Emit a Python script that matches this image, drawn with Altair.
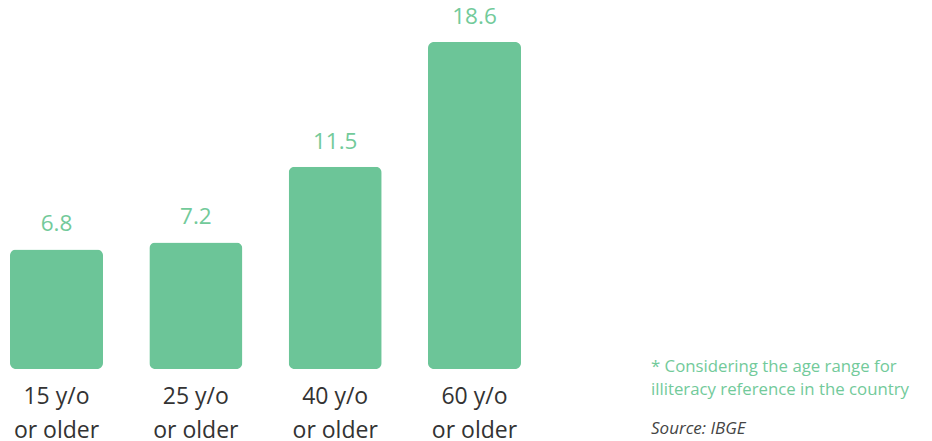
import altair as alt
import pandas as pd

categories = ["15 y/o\nor older", "25 y/o\nor older", "40 y/o\nor older", "60 y/o\nor older"]
values = [6.8, 7.2, 11.5, 18.6]
value_labels = ["6.8", "7.2", "11.5", "18.6"]
note_lines = ["* Considering the age range for", "illiteracy reference in the country"]
source_text = "Source: IBGE"

df = pd.DataFrame({"cat": categories, "val": values, "lbl": value_labels})

GREEN = "#6cc598"
TXT_GREEN = "#72ca9a"
FONT = "Open Sans"

x = alt.X("cat:N", sort=categories, axis=None,
          scale=alt.Scale(range=[2, 513], paddingInner=0.3325, paddingOuter=0))
y = alt.Y("val:Q", axis=None, scale=alt.Scale(domain=[0, 20.53], range=[361, 0]))

bars = alt.Chart(df).mark_bar(color=GREEN, cornerRadius=6).encode(x=x, y=y)

vals = alt.Chart(df).mark_text(color=TXT_GREEN, font=FONT, fontSize=22.5,
                               baseline="alphabetic", dy=-18).encode(x=x, y=y, text="lbl:N")

cats = alt.Chart(df).mark_text(color="#333333", font=FONT, fontSize=23,
                               baseline="alphabetic", lineBreak="\n", lineHeight=34,
                               align="center").encode(
    x=x, y=alt.value(396), text="cat:N")

notes = alt.Chart(pd.DataFrame({"t": ["\n".join(note_lines)]})).mark_text(
    color=TXT_GREEN, font=FONT, fontSize=16.8, align="left",
    baseline="alphabetic", lineBreak="\n", lineHeight=23).encode(
    x=alt.value(643), y=alt.value(364), text="t:N")

src = alt.Chart(pd.DataFrame({"t": [source_text]})).mark_text(
    color="#444444", font=FONT, fontSize=17, fontStyle="italic", align="left",
    baseline="alphabetic").encode(x=alt.value(643), y=alt.value(426), text="t:N")

chart = alt.layer(bars, vals, cats, notes, src).properties(
    width=916, height=433, padding=0, autosize=alt.AutoSizeParams(type="none")
).configure_view(stroke=None)

chart.save("out.html", embed_options={"renderer": "svg", "actions": False})
